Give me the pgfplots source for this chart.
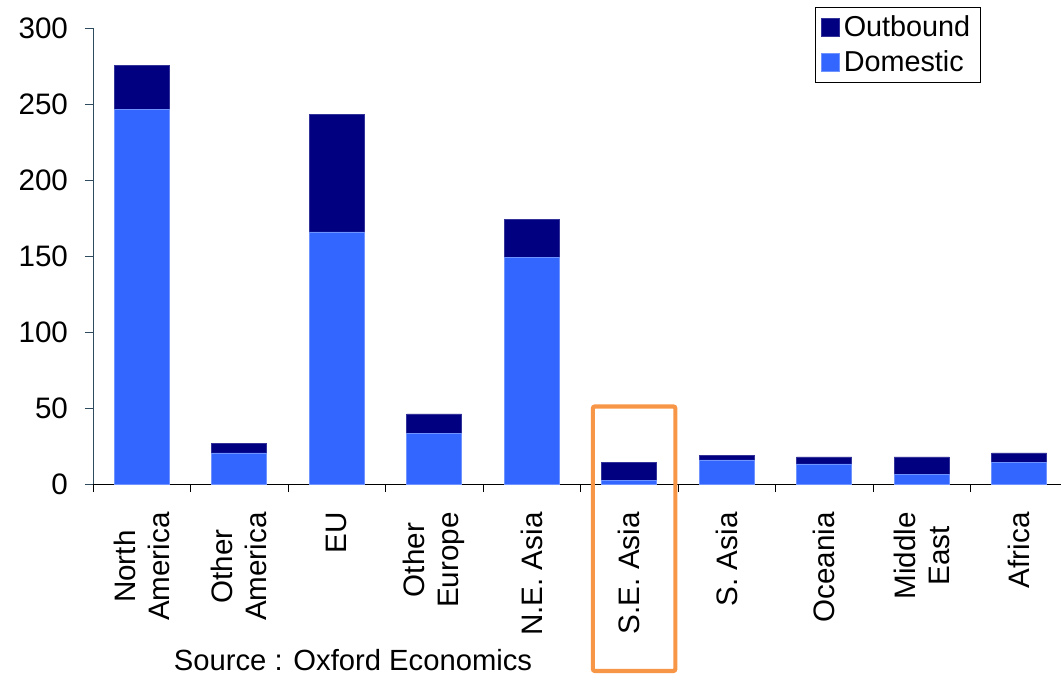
\documentclass[border=0pt]{standalone}
\usepackage{fontspec}
\setmainfont{Liberation Sans}
\usepackage{pgfplots}
\pgfplotsset{compat=1.18}
\definecolor{dom}{HTML}{3366FF}
\definecolor{outb}{HTML}{000080}
\definecolor{boxorange}{HTML}{F79646}
\definecolor{axiscol}{HTML}{2F4B5F}
\begin{document}
\begin{tikzpicture}
\path[use as bounding box] (0,0) rectangle (530.5pt,337.5pt);
\begin{axis}[
  at={(46.5pt,95.5pt)}, anchor=south west,
  scale only axis, width=484pt, height=228pt,
  ybar stacked, bar width=27.5pt,
  xmin=-0.5, xmax=9.43, ymin=0, ymax=300,
  ytick={0,50,...,300},
  xtick={0,...,9},
  xticklabels={North\\America, Other\\America, EU, Other\\Europe, N.E. Asia, S.E. Asia, S. Asia, Oceania, Middle\\East, Africa},
  minor xtick={-0.5,0.5,...,8.5},
  axis x line=bottom, axis y line=left,
  axis line style={-},
  x axis line style={black},
  y axis line style={axiscol},
  tick align=outside,
  major tick length=4pt, minor tick length=4pt,
  major x tick style={draw=none},
  minor x tick style={black},
  y tick style={axiscol},
  /pgf/number format/assume math mode=true,
  tick label style={font=\fontsize{14.8}{17}\selectfont},
  xticklabel style={rotate=90, anchor=east, align=center, inner xsep=10pt},
  yticklabel style={xshift=-5pt},
  legend style={at={(0.917,1.046)}, anchor=north east, draw=black,
    font=\fontsize{14.4}{16}\selectfont, row sep=1.5pt, inner xsep=3pt, inner ysep=2pt},
  reverse legend, legend cell align=left,
  legend image code/.code={\fill[#1] (0pt,-4.5pt) rectangle (9pt,4.5pt);},
  clip=false,
]
\addplot[fill=dom, draw=dom!70!white] coordinates {(0,246.7) (1,20.4) (2,165.8) (3,33.0) (4,149.3) (5,2.6) (6,15.8) (7,13.2) (8,6.1) (9,14.2)};
\addlegendentry{Domestic}
\addplot[fill=outb, draw=outb!80!white] coordinates {(0,28.6) (1,6.2) (2,77.4) (3,13.1) (4,25.0) (5,11.6) (6,2.7) (7,4.6) (8,11.7) (9,6.2)};
\addlegendentry{Outbound}
\draw[boxorange, line width=2.1pt, rounded corners=1pt] (axis cs:4.628,51) rectangle (axis cs:5.474,-123);
\end{axis}
\node[font=\fontsize{14.6}{17}\selectfont, inner sep=0pt, anchor=base] at (176.5pt,2pt) {Source : Oxford Economics};
\end{tikzpicture}
\end{document}
